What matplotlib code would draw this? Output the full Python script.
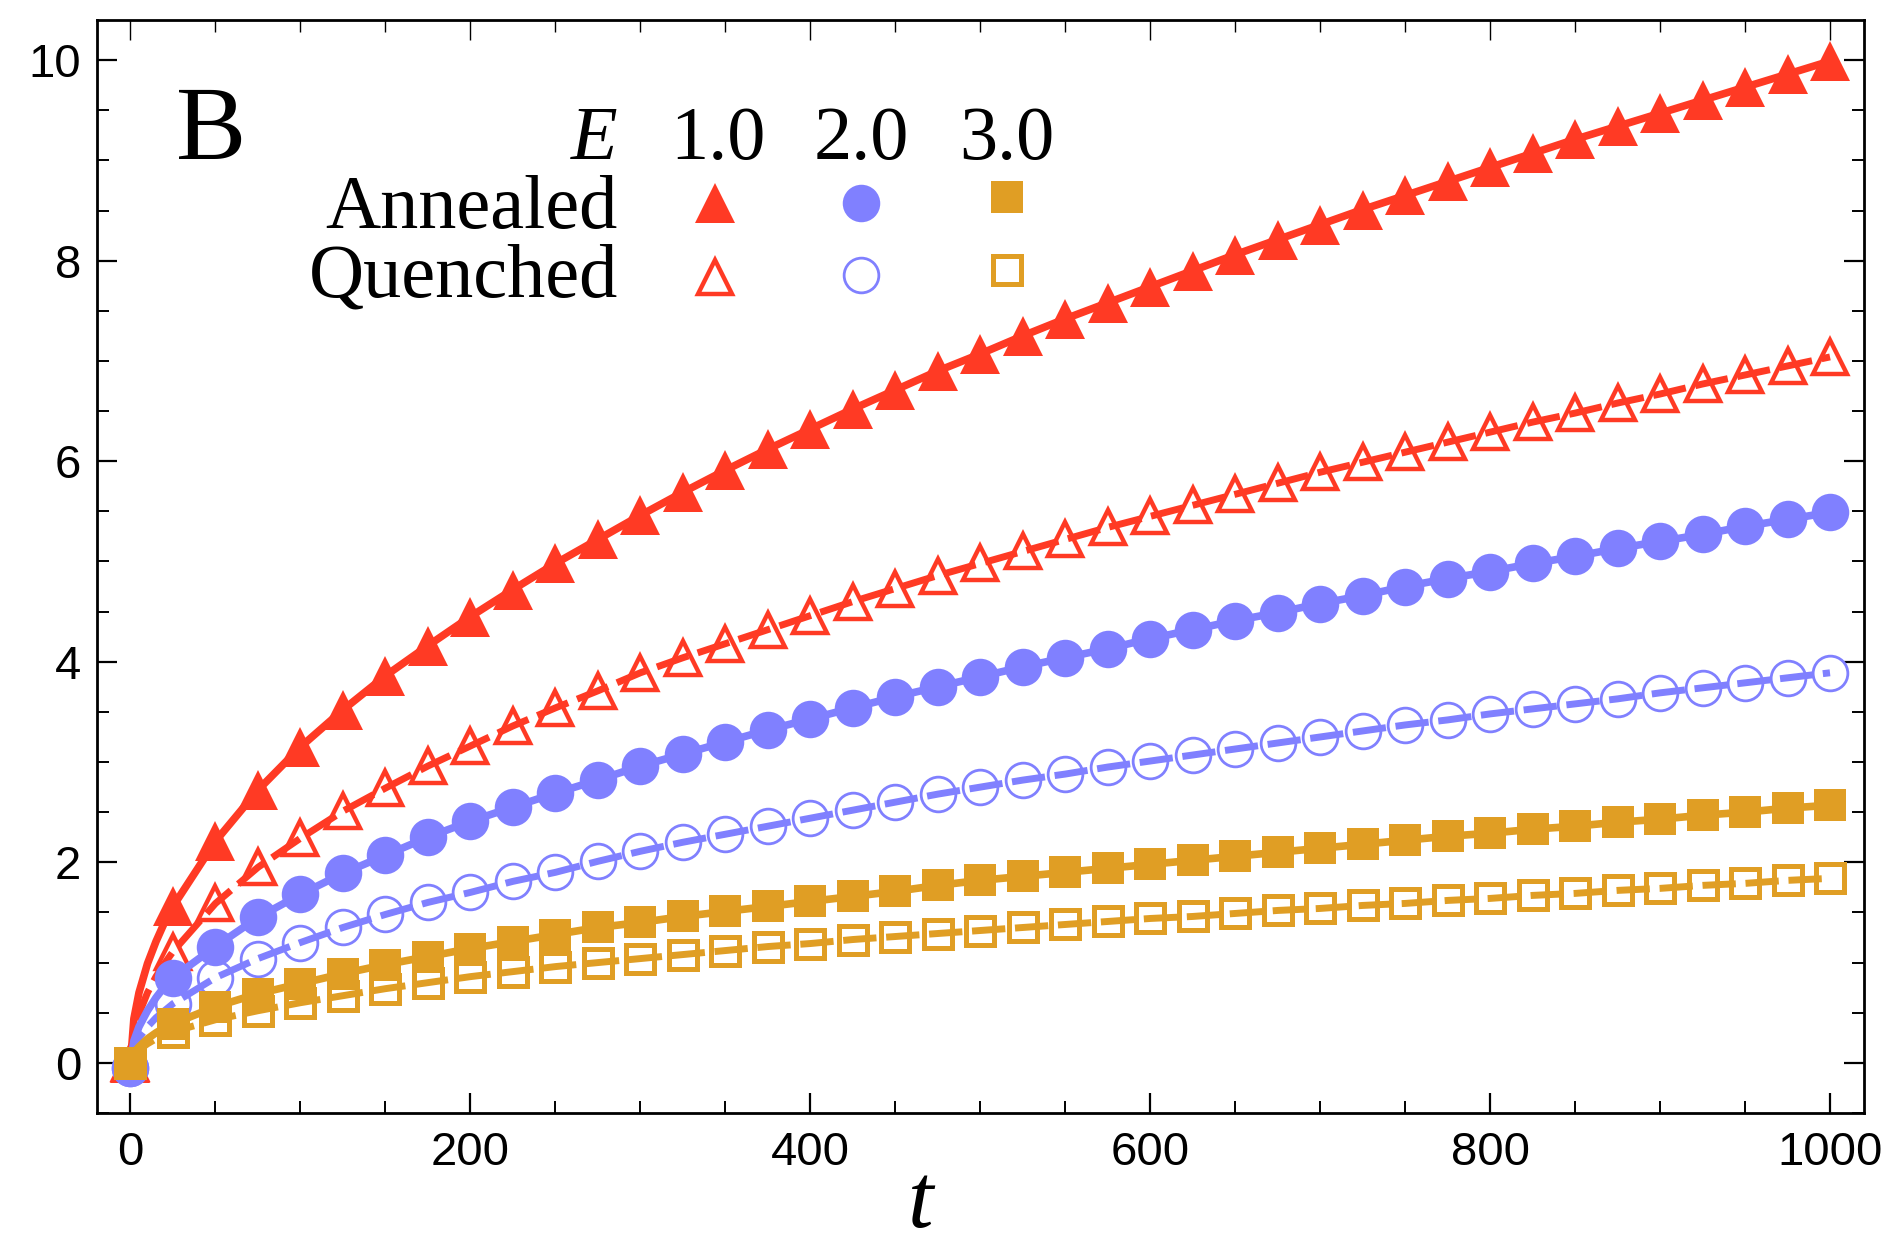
import matplotlib
matplotlib.use('Agg')
import matplotlib.pyplot as plt
from matplotlib.ticker import MultipleLocator

# ---------------- data ----------------
t = [0, 25, 50, 75, 100, 125, 150, 175, 200, 225, 250, 275, 300, 325, 350,
     375, 400, 425, 450, 475, 500, 525, 550, 575, 600, 625, 650, 675, 700,
     725, 750, 775, 800, 825, 850, 875, 900, 925, 950, 975, 1000]

annealed_E1 = [0, 1.56, 2.21, 2.72, 3.15, 3.52, 3.86, 4.16, 4.45, 4.72, 4.98,
               5.22, 5.46, 5.69, 5.91, 6.12, 6.32, 6.52, 6.71, 6.90, 7.07,
               7.25, 7.42, 7.58, 7.74, 7.90, 8.06, 8.21, 8.36, 8.51, 8.65,
               8.79, 8.93, 9.07, 9.21, 9.34, 9.47, 9.60, 9.73, 9.86, 9.99]
quenched_E1 = [0, 1.11, 1.59, 1.95, 2.24, 2.51, 2.74, 2.96, 3.16, 3.36, 3.54,
               3.71, 3.89, 4.04, 4.18, 4.32, 4.46, 4.60, 4.73, 4.86, 4.98,
               5.10, 5.22, 5.34, 5.45, 5.56, 5.67, 5.78, 5.89, 5.99, 6.09,
               6.19, 6.29, 6.39, 6.48, 6.58, 6.67, 6.77, 6.86, 6.95, 7.04]
annealed_E2 = [-0.05, 0.85, 1.16, 1.45, 1.68, 1.89, 2.07, 2.25, 2.41, 2.55, 2.69,
               2.82, 2.96, 3.08, 3.20, 3.32, 3.43, 3.54, 3.65, 3.75, 3.85,
               3.95, 4.04, 4.13, 4.23, 4.32, 4.41, 4.49, 4.58, 4.66, 4.75,
               4.83, 4.90, 4.98, 5.05, 5.13, 5.20, 5.27, 5.35, 5.42, 5.49]
quenched_E2 = [-0.05, 0.59, 0.85, 1.04, 1.20, 1.35, 1.48, 1.60, 1.70, 1.81, 1.90,
               2.01, 2.11, 2.20, 2.28, 2.36, 2.44, 2.52, 2.60, 2.68, 2.75,
               2.82, 2.88, 2.95, 3.01, 3.07, 3.13, 3.19, 3.25, 3.31, 3.37,
               3.42, 3.48, 3.53, 3.58, 3.63, 3.69, 3.74, 3.79, 3.84, 3.89]
annealed_E3 = [0, 0.39, 0.56, 0.69, 0.79, 0.89, 0.98, 1.06, 1.14, 1.21, 1.28,
               1.35, 1.40, 1.46, 1.51, 1.56, 1.61, 1.66, 1.71, 1.77, 1.82,
               1.86, 1.90, 1.94, 1.98, 2.02, 2.06, 2.10, 2.14, 2.18, 2.22,
               2.26, 2.29, 2.33, 2.36, 2.40, 2.43, 2.47, 2.50, 2.54, 2.57]
quenched_E3 = [0, 0.31, 0.43, 0.52, 0.60, 0.67, 0.74, 0.80, 0.86, 0.91, 0.96,
               1.00, 1.04, 1.08, 1.12, 1.16, 1.19, 1.23, 1.26, 1.29, 1.32,
               1.35, 1.38, 1.41, 1.44, 1.46, 1.49, 1.52, 1.54, 1.57, 1.59,
               1.62, 1.64, 1.67, 1.69, 1.72, 1.74, 1.77, 1.79, 1.82, 1.84]

# early part of the fitted curves (t < 25)
t_start = [0, 2, 5, 10, 15, 20]
curve_start_A1 = [0, 0.44, 0.70, 0.99, 1.21, 1.40]
curve_start_Q1 = [0, 0.31, 0.49, 0.70, 0.86, 0.99]
curve_start_A2 = [0, 0.22, 0.36, 0.52, 0.65, 0.76]
curve_start_Q2 = [0, 0.15, 0.25, 0.36, 0.45, 0.52]
curve_start_A3 = [0, 0.10, 0.16, 0.24, 0.30, 0.35]
curve_start_Q3 = [0, 0.08, 0.13, 0.19, 0.24, 0.28]

E_labels = ['1.0', '2.0', '3.0']
row_labels = ['Annealed', 'Quenched']
x_ticks = [0, 200, 400, 600, 800, 1000]
y_ticks = [0, 2, 4, 6, 8, 10]

# ---------------- style ----------------
RED = '#FF3A24'
BLUE = '#8080FF'
ORANGE = '#E09E24'
SERIF = ['Liberation Serif', 'DejaVu Serif']
SANS = ['Liberation Sans', 'DejaVu Sans']

fig = plt.figure(figsize=(18.87, 12.48), dpi=100)
ax = fig.add_axes([0.05114, 0.10817, 0.93667, 0.87580])

series = [
    (annealed_E1, quenched_E1, curve_start_A1, curve_start_Q1, RED, '^', 29, 25, 3.2),
    (annealed_E2, quenched_E2, curve_start_A2, curve_start_Q2, BLUE, 'o', 27, 25, 2.0),
    (annealed_E3, quenched_E3, curve_start_A3, curve_start_Q3, ORANGE, 's', 22.5, 19.5, 3.6),
]

z = 2
for ann, que, cs_a, cs_q, col, mk, ms_f, ms_o, mew_o in series:
    # quenched: open markers + dashed curve
    ax.plot(t, que, linestyle='none', marker=mk, markersize=ms_o,
            markerfacecolor='none', markeredgecolor=col, markeredgewidth=mew_o,
            zorder=z)
    ax.plot(t_start + t[1:], cs_q + que[1:], color=col, lw=5.0,
            dashes=(4.8, 1.4), dash_capstyle='butt', zorder=z + 0.1)
    # annealed: filled markers + solid curve
    ax.plot(t_start + t[1:], cs_a + ann[1:], color=col, lw=5.5,
            solid_capstyle='butt', zorder=z + 0.2)
    ax.plot(t, ann, linestyle='none', marker=mk, markersize=ms_f,
            markerfacecolor=col, markeredgecolor=col, markeredgewidth=0,
            zorder=z + 0.3)
    z += 1

ax.set_xlim(-20, 1020)
ax.set_ylim(-0.5, 10.4)
ax.set_xticks(x_ticks)
ax.set_yticks(y_ticks)
ax.xaxis.set_minor_locator(MultipleLocator(50))
ax.yaxis.set_minor_locator(MultipleLocator(0.5))
ax.set_xticklabels([str(v) for v in x_ticks], fontfamily=SANS, fontsize=34)
ax.set_yticklabels([str(v) for v in y_ticks], fontfamily=SANS, fontsize=34)

ax.tick_params(which='both', direction='in', top=True, right=True,
               color='black')
ax.tick_params(which='major', length=14.5, width=1.6)
ax.tick_params(which='minor', length=8.5, width=1.4)
ax.tick_params(axis='y', pad=11)
ax.tick_params(axis='x', pad=13)
for sp in ax.spines.values():
    sp.set_linewidth(2.0)

# thin grey ticks on the top edge
for tk in ax.xaxis.get_major_ticks() + ax.xaxis.get_minor_ticks():
    tk.tick2line.set_color('#666666')
    tk.tick2line.set_markeredgewidth(1.0)

# x label
fig.text(0.488, 0.002, 't', fontfamily=SERIF, fontstyle='italic',
         fontsize=66, ha='center', va='bottom')

# panel letter
ax.text(0.045, 0.8728, 'B', transform=ax.transAxes, fontfamily=SERIF,
        fontsize=76, ha='left', va='baseline')

# legend table
tx = dict(transform=ax.transAxes, fontfamily=SERIF, fontsize=55, va='baseline')
ax.text(0.2950, 0.8728, 'E', fontstyle='italic', ha='right', **tx)
col_x = [0.3516, 0.4325, 0.5151]
for cx, lab in zip(col_x, E_labels):
    ax.text(cx, 0.8728, lab, ha='center', **tx)
ax.text(0.2950, 0.8097, row_labels[0], ha='right', **tx)
ax.text(0.2950, 0.7466, row_labels[1], ha='right', **tx)

leg_y_ann = [0.8326, 0.8328, 0.8378]
leg_y_que = [0.7649, 0.7667, 0.7713]
for (ann, que, cs_a, cs_q, col, mk, ms_f, ms_o, mew_o), cx, ya, yq in zip(
        series, [0.3499, 0.4325, 0.5151], leg_y_ann, leg_y_que):
    ax.plot([cx], [ya], transform=ax.transAxes, marker=mk, markersize=ms_f,
            markerfacecolor=col, markeredgewidth=0, linestyle='none',
            clip_on=False, zorder=10)
    ax.plot([cx], [yq], transform=ax.transAxes, marker=mk, markersize=ms_o,
            markerfacecolor='none', markeredgecolor=col,
            markeredgewidth=mew_o, linestyle='none', clip_on=False, zorder=10)

fig.savefig('out.png', dpi=100)
